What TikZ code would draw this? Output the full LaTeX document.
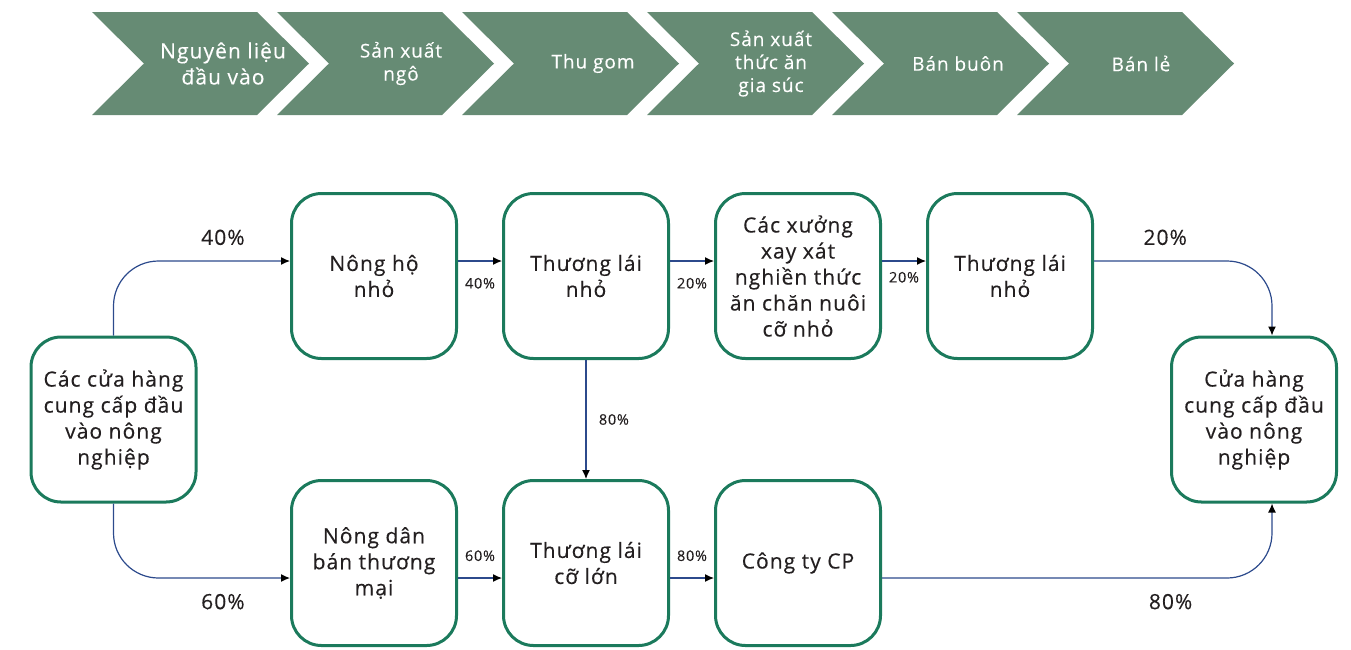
\documentclass[tikz,border=0pt]{standalone}
\usepackage{fontspec}
\setmainfont{Open Sans}[LetterSpace=5, FakeBold=0.3]
\usepackage{tikz}
\usetikzlibrary{arrows.meta}

\definecolor{boxgreen}{RGB}{27,122,92}
\definecolor{stagegreen}{RGB}{102,139,116}
\definecolor{flowblue}{RGB}{44,74,140}
\definecolor{inktext}{RGB}{35,31,32}

\tikzstyle{box}=[
   rectangle,
   rounded corners=30pt,
   line width=3pt,
   draw=boxgreen,
   fill=white,
   text=inktext,
   align=center,
   minimum size=165pt,
   font=\fontsize{21}{26}\selectfont
]
\tikzstyle{stage}=[
   text=white,
   align=center
]
\tikzstyle{flow}=[
   draw=flowblue,
   line width=1.2pt
]
\tikzstyle{share}=[
   text=inktext,
   font=\fontsize{21}{21}\selectfont
]
\tikzstyle{smallshare}=[
   text=inktext,
   font=\fontsize{14.5}{14.5}\selectfont
]

\begin{document}
\begin{tikzpicture}[
         >={Latex[length=9pt,width=8pt,black]},
         node distance=212pt,
         x=1pt, y=-1pt
      ]
      \useasboundingbox (0,0) rectangle (1351,649);

      % value chain stages
      \foreach \name/\fs/\bs/\dx [count=\i] in {
         {Nguyên liệu\\đầu vào}/21/26/7,
         {Sản xuất\\ngô}/19/23/0,
         {Thu gom}/19/23/7,
         {Sản xuất\\thức ăn\\gia súc}/19/23/0,
         {Bán buôn}/19/23/2,
         {Bán lẻ}/19/23/0}
      {
         \pgfmathsetmacro{\xa}{92+(\i-1)*185}
         \fill[stagegreen] (\xa,12) -- ++(165,0) -- ++(52,51.5) -- ++(-52,51.5)
            -- ++(-165,0) -- ++(52,-51.5) -- cycle;
         \node (h\i) [stage, font=\fontsize{\fs}{\bs}\selectfont] at (\xa+124+\dx,63.5) {\name};
      }

      \node (0) [box] at (113.5,419.5) {
         Các cửa hàng
         \\cung cấp đầu
         \\vào nông
         \\nghiệp
      };
      \node (1) [box] at (374,276) {
         Nông hộ
         \\nhỏ
      };
      \node (2) [box, right of=1] {
         Thương lái
         \\nhỏ
      };
      \node (3) [box, right of=2] {
         Các xưởng
         \\xay xát
         \\nghiền thức
         \\ăn chăn nuôi
         \\cỡ nhỏ
      };
      \node (4) [box, right of=3] {
         Thương lái
         \\nhỏ
      };
      \node (5) [box] at (1254,419.5) {
         Cửa hàng
         \\cung cấp đầu
         \\vào nông
         \\nghiệp
      };
      \node (6) [box, below of=1, yshift=-75pt] {
         Nông dân
         \\bán thương
         \\mại
      };
      \node (7) [box, right of=6] {
         Thương lái
         \\cỡ lớn
      };
      \node (8) [box, right of=7] {Công ty CP};

      \draw[flow, ->, rounded corners=45pt] (0.north)
         |- node [share, pos=0.81, above=12pt] {40\%} ([yshift=15pt]1.west);
      \draw[flow, ->, rounded corners=45pt] (0.south)
         |- node [share, pos=0.81, below=12pt] {60\%} ([yshift=-15pt]6.west);

      \path[->]

      ([yshift=15pt]1.east) edge[flow] node [smallshare, below=13pt] {40\%} ([yshift=15pt]2.west)
      ([yshift=15pt]2.east) edge[flow] node [smallshare, below=13pt] {20\%} ([yshift=15pt]3.west)
      ([yshift=15pt]3.east) edge[flow] node [smallshare, below=7pt] {20\%} ([yshift=15pt]4.west)

      (2) edge[flow] node [smallshare, right=9pt] {80\%} (7)

      ([yshift=-15pt]6.east) edge[flow] node [smallshare, above=13pt] {60\%} ([yshift=-15pt]7.west)
      ([yshift=-15pt]7.east) edge[flow] node [smallshare, above=13pt] {80\%} ([yshift=-15pt]8.west)
      ;

      \draw[flow, ->, rounded corners=45pt] ([yshift=15pt]4.east)
         -| node [share, pos=0.2, above=12pt] {20\%} ([xshift=18pt]5.north);
      \draw[flow, ->, rounded corners=45pt] ([yshift=-15pt]8.east)
         -| node [share, pos=0.37, below=12pt] {80\%} ([xshift=18pt]5.south);

   \end{tikzpicture}
\end{document}
